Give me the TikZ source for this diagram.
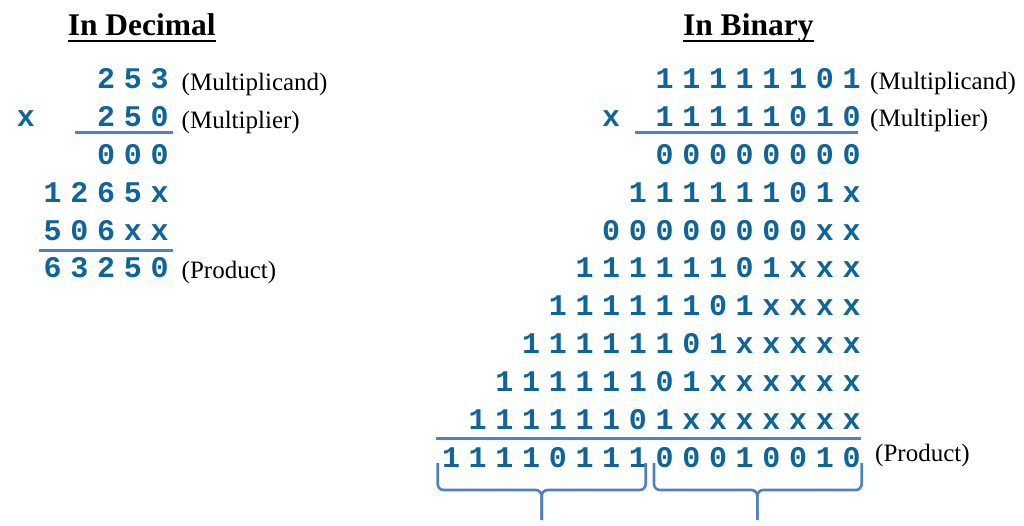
\documentclass[tikz,border=0pt]{standalone}
\usepackage{fontspec}
\setmainfont{Liberation Serif}
\newfontfamily\codefont{Liberation Mono}
\definecolor{digitblue}{RGB}{16,101,152}
\definecolor{lineblue}{RGB}{79,129,189}
\tikzset{
  digit/.style={font=\codefont\bfseries\fontsize{30}{30}\selectfont, text=digitblue, inner sep=0pt, anchor=base},
  note/.style={font=\fontsize{25}{25}\selectfont, inner sep=0pt, anchor=base west},
  heading/.style={font=\bfseries\fontsize{31.5}{31.5}\selectfont, inner sep=0pt, anchor=base},
  sumline/.style={lineblue, line width=2.8pt},
  bracket/.style={lineblue, line width=2.6pt, rounded corners=6pt}
}
\begin{document}
\begin{tikzpicture}[x=1pt, y=-1pt]
  \useasboundingbox (0,0) rectangle (1024,526);

  % headings
  \node[heading] (hdec) at (141.7,35.5) {In Decimal};
  \node[heading] (hbin) at (748.3,35.5) {In Binary};
  \draw[line width=2pt] ([yshift=-5.5pt]hdec.base west) -- ([yshift=-5.5pt]hdec.base east);
  \draw[line width=2pt] ([yshift=-5.5pt]hbin.base west) -- ([yshift=-5.5pt]hbin.base east);

  % decimal rows, right aligned
  \foreach \r/\n/\s in {0/3/{2,5,3}, 1/3/{2,5,0}, 2/3/{0,0,0},
                        3/5/{1,2,6,5,x}, 4/5/{5,0,6,x,x}, 5/5/{6,3,2,5,0}} {
    \foreach \c [count=\k] in \s
      \node[digit] (d\r-\k) at ({159.5-26.7*(\n-\k)}, {89+37.8*\r}) {\c};
  }
  \node[digit] (dtimes) at ({159.5-26.7*5}, {89+37.8}) {x};

  \draw[sumline] (75,132.7) -- (173.3,132.7);
  \draw[sumline] (39.3,250.7) -- (173.3,250.7);

  \node[note] (dcand) at (181.5,91) {(Multiplicand)};
  \node[note] (dplier) at (181.5,128.5) {(Multiplier)};
  \node[note] (dprod) at (181.5,279) {(Product)};

  % binary rows, right aligned
  \foreach \r/\n/\s in {0/8/{1,1,1,1,1,1,0,1}, 1/8/{1,1,1,1,1,0,1,0},
                        2/8/{0,0,0,0,0,0,0,0}, 3/9/{1,1,1,1,1,1,0,1,x},
                        4/10/{0,0,0,0,0,0,0,0,x,x}, 5/11/{1,1,1,1,1,1,0,1,x,x,x},
                        6/12/{1,1,1,1,1,1,0,1,x,x,x,x}, 7/13/{1,1,1,1,1,1,0,1,x,x,x,x,x},
                        8/14/{1,1,1,1,1,1,0,1,x,x,x,x,x,x}, 9/15/{1,1,1,1,1,1,0,1,x,x,x,x,x,x,x},
                        10/16/{1,1,1,1,0,1,1,1,0,0,0,1,0,0,1,0}} {
    \foreach \c [count=\k] in \s
      \node[digit] (b\r-\k) at ({851.5-26.7*(\n-\k)}, {89+37.8*\r}) {\c};
  }
  \node[digit] (btimes) at ({851.5-26.7*9}, {89+37.8}) {x};

  \draw[sumline] (635,132.7) -- (858.3,132.7);
  \draw[sumline] (436,438.3) -- (860.7,438.3);

  \node[note] (bcand) at (870,90) {(Multiplicand)};
  \node[note] (bplier) at (870,127) {(Multiplier)};
  \node[note] (bprod) at (875,461) {(Product)};

  % braces under the two halves
  \coordinate (ltip) at (541.7,520);
  \coordinate (rtip) at (757.3,520);
  \draw[bracket] (437.7,463) -- (437.7,490) -- (541.7,490) -- (ltip);
  \draw[bracket] (645.7,463) -- (645.7,490) -- (541.7,490) -- (ltip);
  \draw[bracket] (654,463) -- (654,490) -- (757.3,490) -- (rtip);
  \draw[bracket] (861.7,463) -- (861.7,490) -- (757.3,490) -- (rtip);
\end{tikzpicture}
\end{document}
